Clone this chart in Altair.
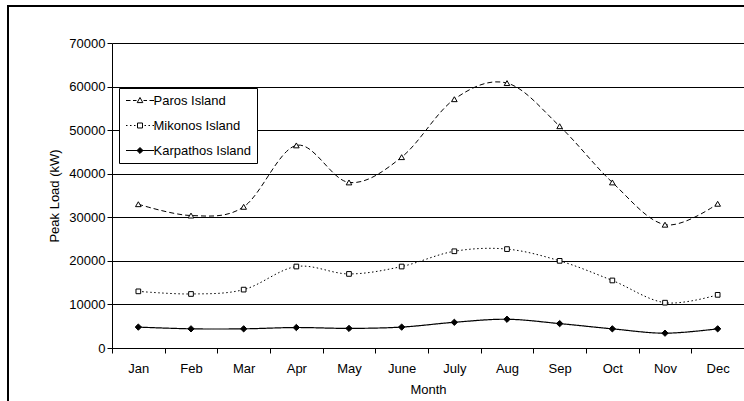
import altair as alt
import pandas as pd

# Monthly peak load per island (kW)
months = ["Jan", "Feb", "Mar", "Apr", "May", "June", "July", "Aug", "Sep", "Oct", "Nov", "Dec"]
series = ["Paros Island", "Mikonos Island", "Karpathos Island"]
paros = [33000, 30400, 32400, 46500, 38000, 43800, 57100, 60800, 50900, 38000, 28300, 33100]
mikonos = [13000, 12400, 13400, 18700, 17000, 18700, 22200, 22700, 20000, 15500, 10400, 12200]
karpathos = [4800, 4400, 4400, 4700, 4500, 4800, 5900, 6600, 5600, 4400, 3400, 4400]

rows = []
for name, vals in zip(series, [paros, mikonos, karpathos]):
    for m, v in zip(months, vals):
        rows.append({"month": m, "load": v, "series": name})
df = pd.DataFrame(rows)

FONT = "Liberation Sans"
W, H = 632, 305

x_enc = alt.X(
    "month:N",
    sort=months,
    scale=alt.Scale(type="band", paddingInner=0, paddingOuter=0),
    axis=alt.Axis(
        title="Month", tickBand="extent", labelAngle=0, tickSize=5,
        labelPadding=9, titlePadding=8, grid=False,
    ),
)
y_enc = alt.Y(
    "load:Q",
    scale=alt.Scale(domain=[0, 70000], nice=False),
    axis=alt.Axis(
        title="Peak Load (kW)", values=list(range(0, 70001, 10000)), format="d",
        tickSize=5, labelPadding=2, titlePadding=7, grid=True,
    ),
)

# Line and marker style per series
styles = {
    "Paros Island": dict(dash=[5, 3], width=1, shape="triangle-up", size=32, fill="white"),
    "Mikonos Island": dict(dash=[1.5, 2.5], width=1, shape="square", size=22, fill="white"),
    "Karpathos Island": dict(dash=[1, 0], width=1.2, shape="diamond", size=40, fill="black"),
}

layers = []
for name, st in styles.items():
    base = alt.Chart(df).transform_filter(alt.datum.series == name)
    layers.append(
        base.mark_line(
            color="black", interpolate="cardinal",
            strokeDash=st["dash"], strokeWidth=st["width"],
        ).encode(x=x_enc, y=y_enc)
    )
    layers.append(
        base.mark_point(
            filled=True, stroke="black", strokeWidth=1, opacity=1,
            shape=st["shape"], size=st["size"], fill=st["fill"],
        ).encode(x=x_enc, y=y_enc)
    )

# Legend symbols: line sample with its marker, drawn as one custom path
legend_paths = [
    "M-2,0H-1.357M-1,0H-0.5M0.5,0H1M1.357,0H2M0,-0.43L0.4,0.3L-0.4,0.3Z",
    "M-2,0H-1.786M-1.429,0H-1.214M-0.857,0H-0.643M0.643,0H0.857M1.214,0H1.429M1.786,0H2"
    "M-0.357,-0.357H0.357V0.357H-0.357Z",
    "M-2,0H2M0,-0.43L0.43,0L0,0.43L-0.43,0Z",
]
legend_fills = ["white", "white", "black"]
legend_def = alt.Legend(
    title=None, orient="none", legendX=7, legendY=45,
    strokeColor="black", fillColor="white", padding=5,
    symbolSize=196, symbolOffset=8.5, labelOffset=6, rowPadding=10,
    symbolStrokeWidth=1, symbolOpacity=1,
    labelFontSize=13, labelFont=FONT, labelColor="black",
)
# Legend carrier: one point per series, parked outside the drawing area
legend_df = pd.DataFrame({"series": series})
legend_layer = alt.Chart(legend_df).mark_point(
    filled=True, strokeWidth=1, size=196, opacity=1
).encode(
    x=alt.value(-2000),
    y=alt.value(-2000),
    shape=alt.Shape("series:N", scale=alt.Scale(domain=series, range=legend_paths), legend=legend_def),
    fill=alt.Fill("series:N", scale=alt.Scale(domain=series, range=legend_fills), legend=legend_def),
    stroke=alt.Stroke("series:N", scale=alt.Scale(domain=series, range=["black"] * 3), legend=legend_def),
)

# Outer frame edges
frame_df = pd.DataFrame({"k": [0]})
frame_top = alt.Chart(frame_df).mark_rule(color="black", strokeWidth=2).encode(
    x=alt.value(-105), x2=alt.value(W), y=alt.value(-37)
)
frame_left = alt.Chart(frame_df).mark_rule(color="black", strokeWidth=2).encode(
    x=alt.value(-104), y=alt.value(-38), y2=alt.value(H + 60)
)

chart = alt.layer(
    *layers, legend_layer, frame_top, frame_left
).properties(
    width=W, height=H, autosize="none",
    padding={"left": 112, "top": 43, "right": 0, "bottom": 53},
    background="white",
).configure_view(
    stroke=None
).configure_axis(
    labelFont=FONT, titleFont=FONT, labelFontSize=13, titleFontSize=13,
    titleFontWeight="normal", labelColor="black", titleColor="black",
    domainColor="black", tickColor="black", gridColor="black",
    gridWidth=1, domainWidth=1, tickWidth=1,
)

chart.save("out.html", embed_options={"renderer": "svg", "actions": False})
